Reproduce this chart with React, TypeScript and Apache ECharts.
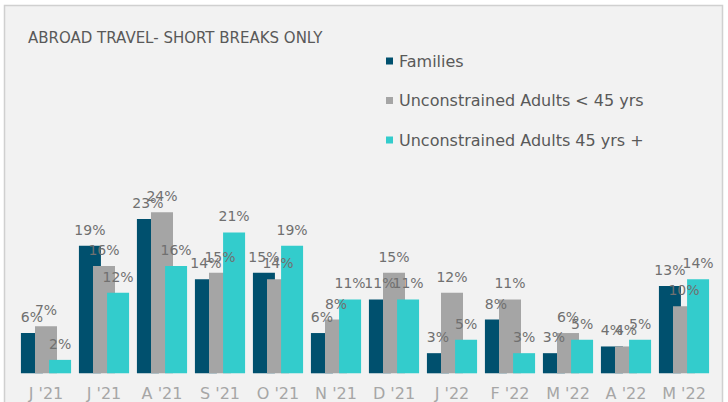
import React, { useEffect, useRef } from "react";
import * as echarts from "echarts";

const categories = ["J '21", "J '21", "A '21", "S '21", "O '21", "N '21", "D '21", "J '22", "F '22", "M '22", "A '22", "M '22"];
const families = [6, 19, 23, 14, 15, 6, 11, 3, 8, 3, 4, 13];
const adultsUnder45 = [7, 16, 24, 15, 14, 8, 15, 12, 11, 6, 4, 10];
const adults45Plus = [2, 12, 16, 21, 19, 11, 11, 5, 3, 5, 5, 14];
const seriesNames = ["Families", "Unconstrained Adults < 45 yrs", "Unconstrained Adults 45 yrs +"];
const colors = ["#00506E", "#A5A5A5", "#33CCCC"];

const FONT = "DejaVu Sans, Verdana, sans-serif";

export default function App() {
  const ref = useRef<HTMLDivElement>(null);
  useEffect(() => {
    document.body.style.margin = "0";
    const chart = echarts.init(ref.current!, null, { renderer: "svg" });
    const mk = (name: string, data: number[], color: string) => ({
      name,
      type: "bar",
      data,
      barWidth: 22,
      barGap: "-36%",
      itemStyle: { color },
      label: {
        show: true,
        position: "top",
        distance: 9,
        formatter: "{c}%",
        color: "#707070",
        fontSize: 14,
        fontFamily: FONT,
      },
    });
    chart.setOption({
      animation: false,
      backgroundColor: "#ffffff",
      color: colors,
      graphic: [
        {
          type: "rect",
          shape: { x: 4.5, y: 5.5, width: 718, height: 420 },
          style: { fill: "#F2F2F2", stroke: "#D0D0D0", lineWidth: 1.5 },
          z: -10,
        },
        {
          type: "text",
          x: 28,
          y: 38,
          style: {
            text: "ABROAD TRAVEL- SHORT BREAKS ONLY",
            fill: "#595959",
            fontSize: 15,
            fontFamily: FONT,
            verticalAlign: "middle",
          },
        },
      ],
      legend: {
        orient: "vertical",
        left: 381,
        top: 48,
        itemWidth: 7,
        itemHeight: 7,
        itemGap: 23.5,
        icon: "rect",
        textStyle: { color: "#595959", fontSize: 16, fontFamily: FONT, padding: [0, 0, 0, 1] },
        data: seriesNames,
      },
      grid: { left: 17, right: 15, top: 172, bottom: 28.7, containLabel: false },
      xAxis: {
        type: "category",
        data: categories,
        axisLine: { show: false },
        axisTick: { show: false },
        axisLabel: { color: "#A6A6A6", fontSize: 16, fontFamily: FONT, margin: 12 },
      },
      yAxis: {
        type: "value",
        min: 0,
        max: 30,
        show: false,
        splitLine: { show: false },
      },
      series: [
        mk(seriesNames[0], families, colors[0]),
        mk(seriesNames[1], adultsUnder45, colors[1]),
        mk(seriesNames[2], adults45Plus, colors[2]),
      ],
    });
    return () => chart.dispose();
  }, []);
  return <div ref={ref} style={{ position: "fixed", left: 0, top: 0, width: 728, height: 402 }} />;
}
